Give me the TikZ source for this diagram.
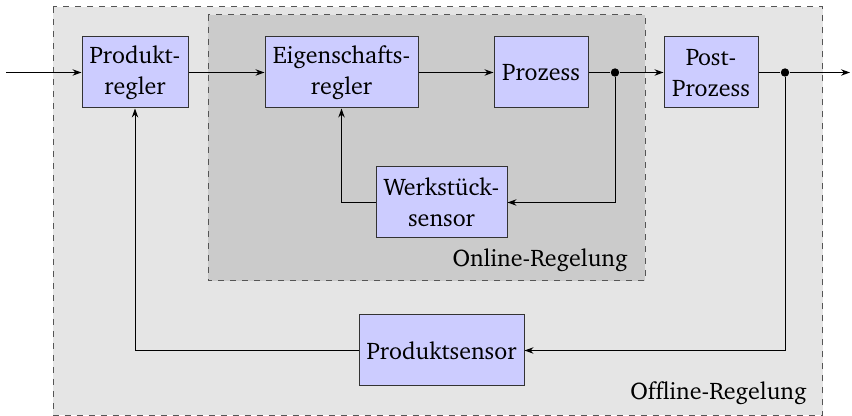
\documentclass[tikz,border=0pt]{standalone}
\usepackage[T1]{fontenc}
\renewcommand\rmdefault{bch}
\usetikzlibrary{arrows.meta}
\definecolor{boxfill}{RGB}{204,204,255}
\definecolor{outerfill}{RGB}{229,229,229}
\definecolor{innerfill}{RGB}{203,203,203}
\definecolor{dashcol}{RGB}{85,85,85}
\tikzset{
  blk/.style={draw=black!80, fill=boxfill, line width=0.5pt, align=center, minimum height=35.5pt, inner sep=0pt, font=\fontsize{12}{15.5}\selectfont},
  conn/.style={line width=0.5pt, -{Stealth[length=4.5pt,width=3.2pt]}},
  plain/.style={line width=0.5pt},
  region/.style={draw=dashcol, dashed, line width=0.5pt},
  lbl/.style={anchor=base east, inner sep=0pt, font=\fontsize{12}{15.5}\selectfont},
  junction/.style={circle, fill=black, inner sep=0pt, minimum size=4.2pt}
}
\begin{document}
\begin{tikzpicture}[x=0.5pt, y=-0.5pt]
\useasboundingbox (0,0) rectangle (852,416);
\draw[region, fill=outerfill] (53,7) rectangle (822.5,415.5);
\draw[region, fill=innerfill] (208,15) rectangle (645,281);
\node[lbl] (online) at (628,267) {Online-Regelung};
\node[lbl] (offline) at (807,400) {Offline-Regelung};

\node[blk, minimum width=53pt] (pr) at (135,72.5) {Produkt-\\regler};
\node[blk, minimum width=76.5pt] (er) at (341.5,72.5) {Eigenschafts-\\regler};
\node[blk, minimum width=47pt] (pz) at (541,72.5) {Prozess};
\node[blk, minimum width=47pt] (pp) at (711,72.5) {Post-\\Prozess};
\node[blk, minimum width=65.5pt] (ws) at (441.5,202.5) {Werkst\"uck-\\sensor};
\node[blk, minimum width=82.5pt] (ps) at (441.5,350.5) {Produktsensor};

\node[junction] (j1) at (615,72.5) {};
\node[junction] (j2) at (785,72.5) {};
\coordinate (in) at (6,72.5);
\coordinate (out) at (850,72.5);

\draw[conn] (in) -- (pr);
\draw[conn] (pr) -- (er);
\draw[conn] (er) -- (pz);
\draw[plain] (pz) -- (j1);
\draw[conn] (j1) -- (pp);
\draw[plain] (pp) -- (j2);
\draw[conn] (j2) -- (out);
\draw[conn] (j1) |- (ws);
\draw[conn] (ws) -| (er);
\draw[conn] (j2) |- (ps);
\draw[conn] (ps) -| (pr);
\end{tikzpicture}
\end{document}
